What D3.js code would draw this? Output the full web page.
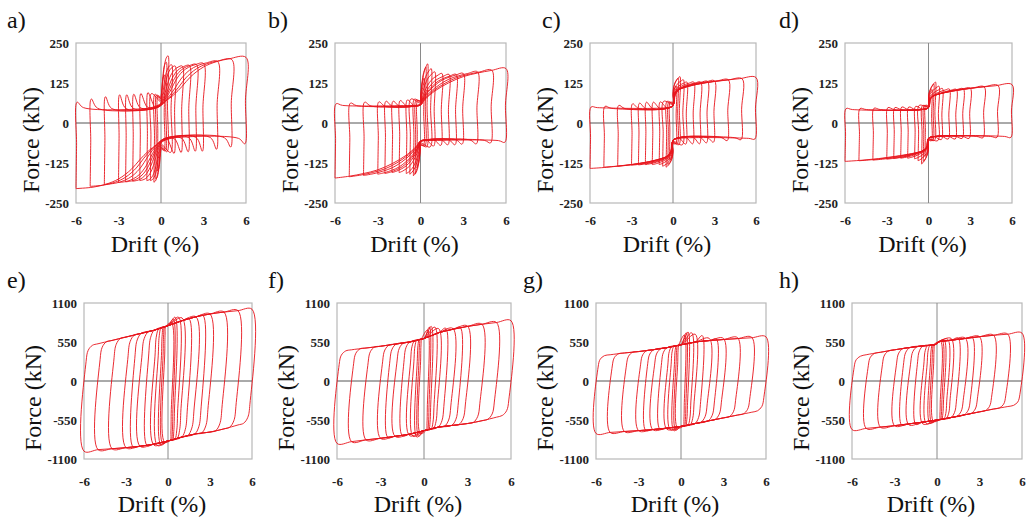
<!DOCTYPE html>
<html><head><meta charset="utf-8">
<script src="https://cdn.jsdelivr.net/npm/d3@7"></script>
<style>
body{margin:0;background:#fff}svg{display:block}
svg text{font-family:"Liberation Serif","Times New Roman","DejaVu Serif","Noto Serif",serif}
</style>
</head><body>
<svg id="chart" width="1026" height="521"></svg>
<script>
// ---------------- DATA ----------------
const panelLabels = ["a)", "b)", "c)", "d)", "e)", "f)", "g)", "h)"];
const xTickValues = [-6, -3, 0, 3, 6];
const yTicksTop = [-250, -125, 0, 125, 250];
const yTicksBottom = [-1100, -550, 0, 550, 1100];
const xTitle = "Drift (%)";
const yTitle = "Force (kN)";

// drift amplitudes of the loading cycles (%)
const driftAmps = [0.25, 0.375, 0.5, 0.75, 1, 1.5, 2, 2.5, 3, 4, 5, 6];

// top row (pinched loops): peak force at +amp / -amp, reload bump, plateau, force at zero drift (kN)
const peakPosA = [150, 190, 210, 182, 178, 178, 180, 183, 186, 192, 198, 205];
const peakNegA = [-150, -175, -185, -180, -180, -180, -182, -184, -186, -192, -198, -205];
const bumpA    = [85, 88, 90, 92, 95, 92, 90, 88, 88, 82, 75, 65];
const plateauA = [70, 65, 60, 55, 52, 50, 48, 46, 45, 45, 46, 48];
const zeroA    = [80, 75, 70, 65, 62, 60, 58, 58, 56, 55, 55, 55];
const riseA = [[0, 0], [0.05, 0.08], [0.15, 0.22], [0.25, 0.4], [0.35, 0.6], [0.5, 0.8], [0.65, 0.91], [0.8, 0.97], [1, 1]];

const peakPosB = [140, 175, 185, 170, 160, 155, 152, 152, 155, 160, 165, 170];
const peakNegB = [-140, -160, -165, -160, -158, -155, -155, -158, -160, -164, -168, -172];
const bumpB    = [70, 72, 75, 75, 72, 70, 68, 68, 66, 65, 62, 60];
const plateauB = [60, 58, 56, 55, 54, 53, 52, 52, 52, 53, 54, 55];
const zeroB    = [70, 68, 65, 62, 60, 58, 58, 57, 57, 56, 56, 56];
const riseB = [[0, 0], [0.05, 0.15], [0.17, 0.39], [0.33, 0.61], [0.5, 0.78], [0.67, 0.88], [0.83, 0.95], [1, 1]];

const peakPosC = [115, 140, 145, 135, 128, 128, 128, 130, 132, 135, 138, 142];
const peakNegC = [-115, -130, -138, -135, -130, -130, -130, -131, -132, -135, -138, -142];
const bumpC    = [65, 65, 68, 68, 66, 65, 65, 62, 60, 55, 52, 50];
const plateauC = [55, 52, 50, 48, 47, 46, 45, 45, 45, 45, 46, 48];
const zeroC    = [65, 62, 60, 58, 56, 55, 55, 55, 54, 54, 54, 54];
const riseC = [[0, 0], [0.03, 0.4], [0.08, 0.58], [0.2, 0.7], [0.4, 0.82], [0.6, 0.9], [0.8, 0.96], [1, 1]];

const peakPosD = [105, 122, 128, 115, 108, 106, 105, 107, 109, 113, 117, 120];
const peakNegD = [-105, -120, -128, -118, -112, -110, -110, -111, -113, -116, -118, -120];
const bumpD    = [55, 55, 55, 55, 52, 50, 50, 48, 48, 46, 45, 45];
const plateauD = [48, 46, 45, 44, 43, 42, 42, 42, 42, 42, 42, 42];
const zeroD    = [55, 52, 50, 50, 48, 48, 48, 48, 48, 48, 48, 48];
const riseD = [[0, 0], [0.03, 0.4], [0.08, 0.55], [0.2, 0.66], [0.4, 0.78], [0.6, 0.88], [0.8, 0.95], [1, 1]];

// bottom row (wide loops): upper / lower branch [drift %, force kN] and peaks per amplitude
const topBranchE = [[-6, 470], [-5, 525], [-4, 572], [-3, 620], [-2, 668], [-1, 715], [0, 780], [1, 850], [2, 905], [3, 945], [4, 972], [5, 992], [6, 1012]];
const botBranchE = [[-6, -990], [-5, -968], [-4, -955], [-3, -940], [-2, -920], [-1, -890], [0, -845], [1, -790], [2, -745], [3, -720], [4, -675], [5, -620], [6, -560]];
const peakPosE = [820, 870, 900, 900, 890, 880, 905, 925, 945, 972, 992, 1012];
const peakNegE = [-860, -880, -900, -910, -905, -910, -920, -930, -940, -955, -968, -990];

const topBranchF = [[-6, 400], [-5, 440], [-4, 465], [-3, 490], [-2, 520], [-1, 550], [0, 600], [1, 680], [2, 730], [3, 770], [4, 800], [5, 825], [6, 850]];
const botBranchF = [[-6, -880], [-5, -855], [-4, -830], [-3, -808], [-2, -780], [-1, -750], [0, -700], [1, -650], [2, -625], [3, -600], [4, -560], [5, -510], [6, -450]];
const peakPosF = [720, 760, 770, 760, 740, 745, 740, 755, 775, 800, 825, 850];
const peakNegF = [-740, -780, -790, -780, -770, -770, -780, -795, -808, -830, -855, -880];

const topBranchG = [[-6, 340], [-5, 370], [-4, 395], [-3, 415], [-2, 440], [-1, 470], [0, 510], [1, 550], [2, 570], [3, 585], [4, 598], [5, 610], [6, 622]];
const botBranchG = [[-6, -740], [-5, -725], [-4, -712], [-3, -700], [-2, -685], [-1, -665], [0, -640], [1, -600], [2, -560], [3, -520], [4, -480], [5, -440], [6, -390]];
const peakPosG = [650, 680, 690, 680, 660, 640, 600, 590, 600, 610, 615, 622];
const peakNegG = [-660, -690, -700, -690, -680, -675, -685, -695, -700, -712, -725, -740];

const topBranchH = [[-6, 320], [-5, 370], [-4, 405], [-3, 440], [-2, 470], [-1, 495], [-0.1, 515], [0.1, 550], [1, 575], [2, 600], [3, 625], [4, 645], [5, 660], [6, 675]];
const botBranchH = [[-6, -685], [-5, -668], [-4, -650], [-3, -630], [-2, -605], [-1, -580], [0, -550], [1, -515], [2, -475], [3, -435], [4, -395], [5, -360], [6, -320]];
const peakPosH = [560, 570, 580, 590, 600, 605, 605, 612, 625, 645, 660, 675];
const peakNegH = [-570, -585, -595, -600, -605, -610, -615, -620, -630, -650, -668, -685];

// ---------------- LAYOUT ----------------
const layout = [
  {x0: 76,  x1: 246,  y0: 43,  y1: 203, lx: 7,   row: 0},
  {x0: 335, x1: 506,  y0: 43,  y1: 203, lx: 268, row: 0},
  {x0: 590, x1: 756,  y0: 43,  y1: 203, lx: 542, row: 0},
  {x0: 845, x1: 1012, y0: 43,  y1: 203, lx: 779, row: 0},
  {x0: 84,  x1: 252,  y0: 303, y1: 459, lx: 7,   row: 1},
  {x0: 337, x1: 511,  y0: 303, y1: 459, lx: 268, row: 1},
  {x0: 596, x1: 766,  y0: 303, y1: 459, lx: 523, row: 1},
  {x0: 852, x1: 1022, y0: 303, y1: 459, lx: 779, row: 1}
];

const pinchedSets = [
  {pos: peakPosA, neg: peakNegA, bump: bumpA, plat: plateauA, zero: zeroA, rise: riseA},
  {pos: peakPosB, neg: peakNegB, bump: bumpB, plat: plateauB, zero: zeroB, rise: riseB},
  {pos: peakPosC, neg: peakNegC, bump: bumpC, plat: plateauC, zero: zeroC, rise: riseC},
  {pos: peakPosD, neg: peakNegD, bump: bumpD, plat: plateauD, zero: zeroD, rise: riseD}
];
const wideSets = [
  {top: topBranchE, bot: botBranchE, pos: peakPosE, neg: peakNegE},
  {top: topBranchF, bot: botBranchF, pos: peakPosF, neg: peakNegF},
  {top: topBranchG, bot: botBranchG, pos: peakPosG, neg: peakNegG},
  {top: topBranchH, bot: botBranchH, pos: peakPosH, neg: peakNegH}
];

function branchAt(br, x) {
  if (x <= br[0][0]) return br[0][1];
  for (let i = 1; i < br.length; i++) {
    if (x <= br[i][0]) {
      const [xa, ya] = br[i - 1], [xb, yb] = br[i];
      return ya + (yb - ya) * (x - xa) / (xb - xa);
    }
  }
  return br[br.length - 1][1];
}

function pinchedLoop(D, pPos, pNeg, bump, plat, z0, rise) {
  const pts = [];
  const e = Math.min(0.08, D * 0.2);
  const fs = Math.min(0.45, D * 0.5);
  const fe = Math.min(0.5, D * 0.4);
  pts.push([-D, pNeg]);
  pts.push([-D + e * 0.5, (pNeg + bump) / 2]);
  pts.push([-D + e, bump]);
  if (-D + e + fs < -fe) { pts.push([-D + e + fs, plat]); pts.push([-fe, plat]); }
  pts.push([0, z0]);
  rise.slice(1).forEach(([s, r]) => pts.push([D * s, z0 + (pPos - z0) * r]));
  pts.push([D - e * 0.5, (pPos - bump) / 2]);
  pts.push([D - e, -bump]);
  if (D - e - fs > fe) { pts.push([D - e - fs, -plat]); pts.push([fe, -plat]); }
  pts.push([0, -z0]);
  rise.slice(1).forEach(([s, r]) => pts.push([-D * s, -z0 + (pNeg + z0) * r]));
  return pts;
}

function wideLoop(D, pPos, pNeg, top, bot) {
  const pts = [];
  const kw = Math.min(0.6, 0.35 * D);
  const Tk = branchAt(top, -D + kw);
  pts.push([-D, pNeg]);
  pts.push([-D + 0.25 * kw, 0.55 * Tk]);
  pts.push([-D + 0.5 * kw, 0.86 * Tk]);
  pts.push([-D + kw, Tk]);
  top.forEach(p => { if (p[0] > -D + kw + 0.2 && p[0] < D - 0.15) pts.push(p); });
  pts.push([D, pPos]);
  const Bk = branchAt(bot, D - kw);
  pts.push([D - 0.25 * kw, 0.55 * Bk]);
  pts.push([D - 0.5 * kw, 0.86 * Bk]);
  pts.push([D - kw, Bk]);
  bot.slice().reverse().forEach(p => { if (p[0] < D - kw - 0.2 && p[0] > -D + 0.15) pts.push(p); });
  return pts;
}

// ---------------- DRAW ----------------
const svg = d3.select("#chart");
const red = "#e8141c";

layout.forEach((L, i) => {
  const g = svg.append("g");
  const x = d3.scaleLinear().domain([-6, 6]).range([L.x0, L.x1]);
  const yTicks = L.row === 0 ? yTicksTop : yTicksBottom;
  const y = d3.scaleLinear().domain([yTicks[0], yTicks[yTicks.length - 1]]).range([L.y1, L.y0]);

  g.append("rect").attr("x", L.x0).attr("y", L.y0)
    .attr("width", L.x1 - L.x0).attr("height", L.y1 - L.y0)
    .attr("fill", "none").attr("stroke", "#b8b8b8").attr("stroke-width", 1.2);

  g.append("line").attr("x1", x(0)).attr("x2", x(0)).attr("y1", L.y0).attr("y2", L.y1)
    .attr("stroke", "#8a8a8a").attr("stroke-width", 1);
  g.append("line").attr("x1", L.x0).attr("x2", L.x1).attr("y1", y(0)).attr("y2", y(0))
    .attr("stroke", "#555").attr("stroke-width", 1);

  const fmt = d => String(d);
  const xAxis = d3.axisBottom(x).tickValues(xTickValues).tickSize(0).tickPadding(0).tickFormat(fmt);
  const xa = g.append("g").attr("transform", `translate(0,${L.row === 0 ? 216 : 477})`).call(xAxis);
  const yAxis = d3.axisLeft(y).tickValues(yTicks).tickSize(0).tickPadding(7).tickFormat(fmt);
  const ya = g.append("g").attr("transform", `translate(${L.x0},0)`).call(yAxis);
  [xa, ya].forEach(a => {
    a.attr("font-family", null);
    a.select(".domain").remove();
    a.selectAll("text").attr("font-weight", "bold").attr("font-size", 13).attr("fill", "#222");
  });

  const line = d3.line().x(d => x(d[0])).y(d => y(d[1])).curve(d3.curveCatmullRomClosed.alpha(0.5));
  const loops = driftAmps.map((D, k) => {
    if (L.row === 0) {
      const s = pinchedSets[i];
      return pinchedLoop(D, s.pos[k], s.neg[k], s.bump[k], s.plat[k], s.zero[k], s.rise);
    } else {
      const s = wideSets[i - 4];
      return wideLoop(D, s.pos[k], s.neg[k], s.top, s.bot);
    }
  });
  g.selectAll("path.loop").data(loops).join("path").attr("class", "loop")
    .attr("d", line).attr("fill", "none").attr("stroke", red)
    .attr("stroke-width", 1).attr("stroke-opacity", 0.9).attr("stroke-linejoin", "round");

  const cx = (L.x0 + L.x1) / 2 - 6;
  g.append("text").attr("x", cx).attr("y", L.row === 0 ? 252 : 512)
    .attr("text-anchor", "middle").attr("font-size", 24)
    .attr("fill", "#111").text(xTitle);
  const fy = (L.y0 + L.y1) / 2 + 17;
  const fx = L.x0 - (L.row === 0 ? 45 : 51);
  g.append("text").attr("transform", `translate(${fx},${fy}) rotate(-90)`)
    .attr("text-anchor", "middle").attr("dominant-baseline", "central")
    .attr("font-size", 24).attr("fill", "#111").text(yTitle);
  g.append("text").attr("x", L.lx).attr("y", L.row === 0 ? 28 : 288)
    .attr("font-size", 24).attr("fill", "#111").text(panelLabels[i]);
});
</script>
</body></html>
